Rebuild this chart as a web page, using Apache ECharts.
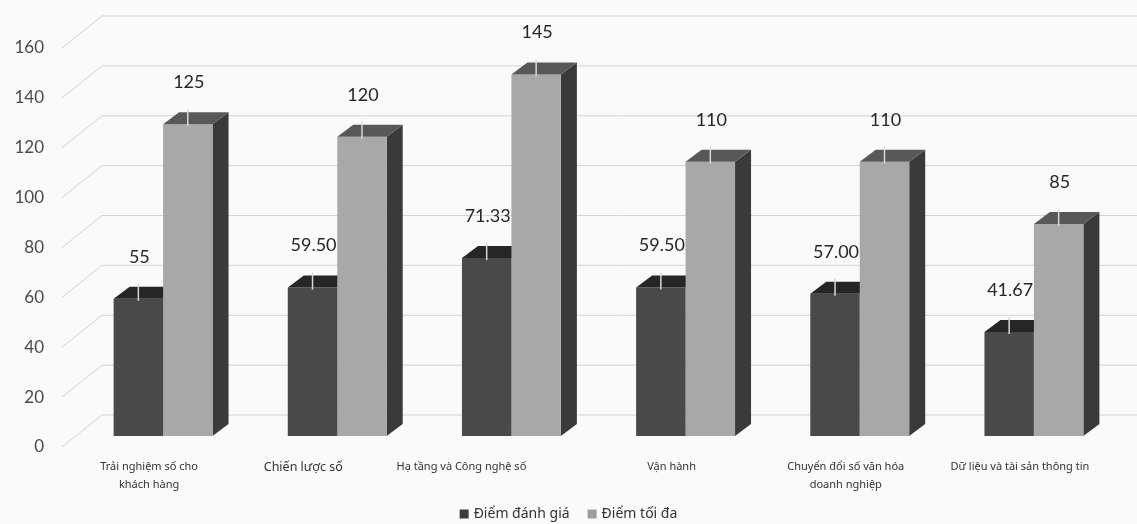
<!DOCTYPE html>
<html>
<head>
<meta charset="utf-8">
<script src="https://cdn.jsdelivr.net/npm/echarts@6/dist/echarts.min.js"></script>
<style>
  html, body { margin: 0; padding: 0; background: #fafafa; }
  #chart { width: 1137px; height: 524px; }
</style>
</head>
<body>
<div id="chart"></div>
<script>
// Categories (assessment pillars)
const categories = [
  'Trải nghiệm số cho\nkhách hàng',
  'Chiến lược số',
  'Hạ tầng và Công nghệ số',
  'Vận hành',
  'Chuyển đổi số văn hóa\ndoanh nghiệp',
  'Dữ liệu và tài sản thông tin'
];
// Assessed score per pillar
const scoreValues = [55, 59.5, 71.33, 59.5, 57, 41.67];
const scoreLabels = ['55', '59.50', '71.33', '59.50', '57.00', '41.67'];
// Maximum score per pillar
const maxValues = [125, 120, 145, 110, 110, 85];
const maxLabels = ['125', '120', '145', '110', '110', '85'];
// Value axis ticks
const yTicks = [0, 20, 40, 60, 80, 100, 120, 140, 160];

const seriesNames = ['Điểm đánh giá', 'Điểm tối đa'];

// 3D geometry (pixels)
const FRONT_DX = 14, FRONT_DY = -11;   // bar front plane vs floor front edge
const DEPTH_DX = 16, DEPTH_DY = -12;   // bar depth
const WALL_DX = 40, WALL_DY = -32;     // back wall vs floor front edge
const BAR_RATIO = 0.284;

// per-category label tweaks (perspective makes some labels sit further left)
const categoryLabelStyle = {
  1: { fontSize: 12.5, padding: [0, 40, 0, 0] },
  2: { padding: [0, 72, 0, 0] }
};

const chart = echarts.init(document.getElementById('chart'), null, { renderer: 'canvas' });

function wallRender(params, api) {
  const v = api.value(1);
  const p = api.coord([0, v]);
  const cs = params.coordSys;
  const x0 = cs.x, y = p[1];
  const lineStyle = { stroke: '#d4d4d4', lineWidth: 1 };
  return {
    type: 'group',
    children: [
      { type: 'line', shape: { x1: x0, y1: y, x2: x0 + WALL_DX, y2: y + WALL_DY }, style: lineStyle, silent: true },
      { type: 'line', shape: { x1: x0 + WALL_DX, y1: y + WALL_DY, x2: 1137, y2: y + WALL_DY }, style: lineStyle, silent: true }
    ]
  };
}

function makeBarRender(kind) {
  const front = kind === 0 ? '#494949' : '#a8a8a8';
  const top = kind === 0 ? '#262626' : '#585858';
  const side = kind === 0 ? '#333333' : '#3a3a3a';
  const labels = kind === 0 ? scoreLabels : maxLabels;
  return function (params, api) {
    const i = api.value(0);
    const v = api.value(1);
    const base = api.coord([i, 0]);
    const topP = api.coord([i, v]);
    const band = api.size([1, 0])[0];
    const w = band * BAR_RATIO;
    const c = base[0] + FRONT_DX;
    const xl = kind === 0 ? c - w : c;
    const xr = xl + w;
    const yb = base[1] + FRONT_DY;
    const yt = topP[1] + FRONT_DY;
    const cx = (xl + xr) / 2;
    const children = [];
    // side face
    children.push({ type: 'polygon', shape: { points: [[xr, yt], [xr + DEPTH_DX, yt + DEPTH_DY], [xr + DEPTH_DX, yb + DEPTH_DY], [xr, yb]] }, style: { fill: side } });
    // front face
    children.push({ type: 'rect', shape: { x: xl, y: yt, width: w, height: yb - yt }, style: { fill: front } });
    // top face
    children.push({ type: 'polygon', shape: { points: [[xl, yt], [xl + DEPTH_DX, yt + DEPTH_DY], [xr + DEPTH_DX, yt + DEPTH_DY], [xr, yt]] }, style: { fill: top } });
    // leader line
    children.push({ type: 'line', shape: { x1: cx, y1: yt + DEPTH_DY - 3, x2: cx, y2: yt + 2 }, style: { stroke: '#d8d8d8', lineWidth: 1.5 } });
    // value label
    children.push({ type: 'text', style: { text: labels[i], x: cx + 1, y: yt - 42, align: 'center', verticalAlign: 'middle', fontSize: 18, fontFamily: 'Lato, "Noto Sans", sans-serif', fill: '#262626' } });
    return { type: 'group', children: children };
  };
}

const option = {
  backgroundColor: '#fafafa',
  animation: false,
  grid: { left: 62, right: 30, top: 48, bottom: 77 },
  legend: {
    data: seriesNames,
    bottom: -2,
    left: 'center',
    icon: 'rect',
    itemWidth: 9,
    itemHeight: 9,
    itemGap: 18,
    textStyle: { fontSize: 14, color: '#333', fontFamily: '"Noto Sans", sans-serif' }
  },
  xAxis: {
    type: 'category',
    data: categories.map((name, i) => categoryLabelStyle[i]
      ? { value: name, textStyle: categoryLabelStyle[i] }
      : name),
    axisLine: { show: false },
    axisTick: { show: false },
    axisLabel: { margin: 11, fontSize: 11, lineHeight: 18, color: '#333', fontFamily: '"Noto Sans", sans-serif', interval: 0 }
  },
  yAxis: {
    type: 'value',
    min: 0,
    max: 160,
    interval: 20,
    axisLine: { show: false },
    axisTick: { show: false },
    splitLine: { show: false },
    axisLabel: { margin: 18, fontSize: 17, color: '#4a4a4a', fontFamily: 'Lato, sans-serif' }
  },
  series: [
    {
      type: 'custom',
      name: 'walls',
      renderItem: wallRender,
      data: yTicks.map(v => [0, v]),
      z: 1,
      silent: true
    },
    {
      type: 'custom',
      name: seriesNames[0],
      itemStyle: { color: '#3c3c3c' },
      renderItem: makeBarRender(0),
      data: scoreValues.map((v, i) => [i, v]),
      encode: { x: 0, y: 1 },
      z: 2
    },
    {
      type: 'custom',
      name: seriesNames[1],
      itemStyle: { color: '#9d9d9d' },
      renderItem: makeBarRender(1),
      data: maxValues.map((v, i) => [i, v]),
      encode: { x: 0, y: 1 },
      z: 3
    }
  ]
};
chart.setOption(option);
</script>
</body>
</html>
